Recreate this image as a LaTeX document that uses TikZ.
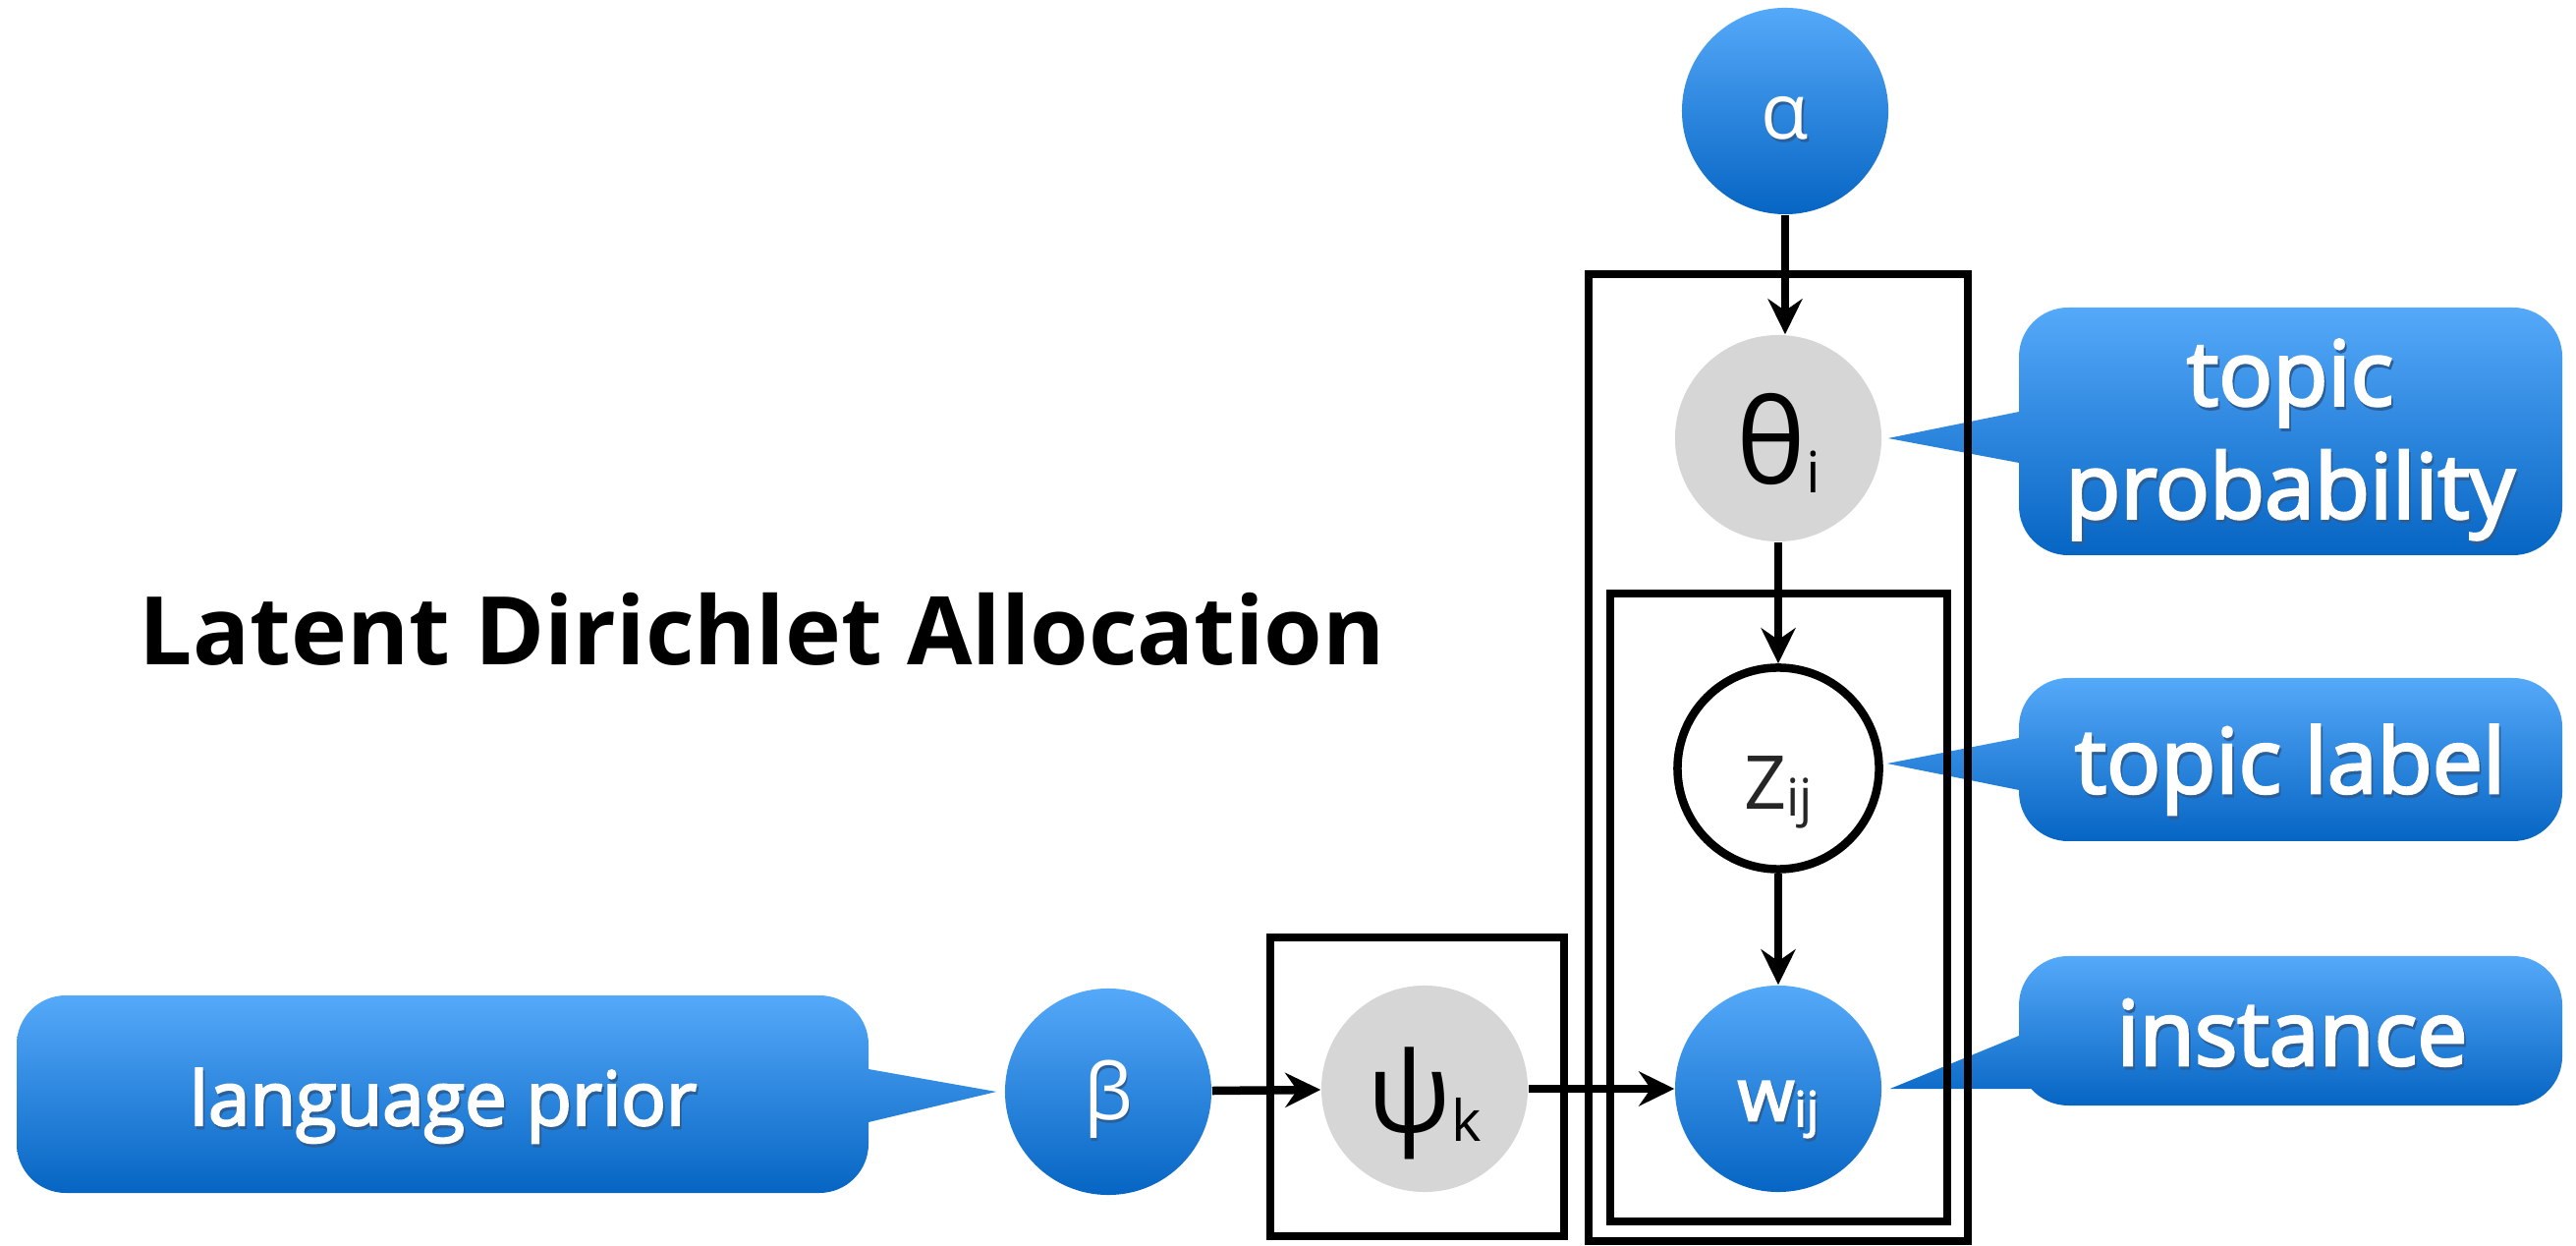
\documentclass[tikz,border=0pt]{standalone}
\usepackage{fontspec}
\setmainfont{Open Sans}
\newfontfamily\semibold[FakeBold=3]{Open Sans}
\usetikzlibrary{arrows.meta,calc}

\definecolor{bluetop}{HTML}{55A9F9}
\definecolor{bluebot}{HTML}{0665C3}
\definecolor{platefill}{HTML}{D6D6D6}
\definecolor{shadowc}{HTML}{2A5F9A}

\pgfdeclarelayer{back}
\pgfsetlayers{back,main}

% font size with matching baseline skip
\newcommand\fsz[1]{\fontsize{#1}{#1}\selectfont}
% move a symbol down without changing its box
\newcommand\lowered[2]{\raisebox{-#1}[\height][\depth]{#2}}
% lowered subscript: drop, size, text
\newcommand\subs[3]{\raisebox{-#1}{\fsz{#2}#3}}
% white text with a dark drop shadow
\newcommand\shd[1]{\makebox[0pt][l]{\kern0.5pt\raisebox{-0.9pt}{\color{shadowc}#1}}#1}

\begin{document}
\begin{tikzpicture}[x=0.01cm, y=-0.01cm,
  bluenode/.style={circle, minimum size=2.1cm, inner sep=0pt,
    top color=bluetop, bottom color=bluebot, draw=none, text=white},
  graynode/.style={circle, minimum size=2.1cm, inner sep=0pt,
    fill=platefill, text=black},
  opennode/.style={circle, minimum size=2.05cm, inner sep=0pt,
    draw=black, line width=0.85mm, fill=white, text=black!85},
  plate/.style={draw=black, line width=0.75mm},
  arrowline/.style={line width=0.85mm,
    -{Stealth[length=3.6mm, width=3.5mm, inset=1.2mm]}},
  bubble/.style={top color=bluetop, bottom color=bluebot, draw=none},
  calltext/.style={text=white, font=\semibold\fsz{26}, anchor=base, inner sep=0pt}]

\useasboundingbox (0,0) rectangle (2622,1268);

% title
\node[anchor=base, font=\bfseries\fsz{27.4}, inner sep=0pt] (title) at (776,677)
  {Latent Dirichlet Allocation};

% model variables
\node[bluenode] (alpha) at (1817,113) {\lowered{2.5pt}{\fsz{22.5}\shd{α}}};
\node[graynode] (theta) at (1810,446) {\lowered{1.4pt}{\fsz{34}θ\subs{2.3pt}{16.5}{i}}};
\node[opennode] (z) at (1810,782) {\lowered{7pt}{\fsz{21.5}Z\subs{2pt}{15}{ij}}};
\node[bluenode] (w) at (1810,1108) {\lowered{6.5pt}{\semibold\fsz{21}\shd{w\subs{1.7pt}{14}{ij}}}};
\node[graynode] (psi) at (1450,1108) {\lowered{4.3pt}{\fsz{32.5}ψ\subs{2.6pt}{16.5}{k}}};
\node[bluenode] (beta) at (1128,1111) {\lowered{2.7pt}{\fsz{22.5}\shd{β}}};

% plates
\draw[plate] (1617,279) rectangle (2003,1263);
\draw[plate] (1639,604) rectangle (1982,1243);
\draw[plate] (1293,954) rectangle (1592,1258);

% dependencies
\draw[arrowline] (alpha.south) -- (alpha.south |- theta.north);
\draw[arrowline] (theta) -- (z);
\draw[arrowline] (z) -- (w);
\draw[arrowline] (beta) -- (psi);
\draw[arrowline] (psi) -- (w);

% callout texts
\node[calltext, anchor=center, align=center, font=\semibold\fontsize{26}{32.7}\selectfont]
  (tp) at (2331,449) {\shd{topic}\\\shd{probability}};
\node[calltext] (tl) at (2331,807) {\shd{topic label}};
\node[calltext] (inst) at (2333,1084) {\shd{instance}};
\node[calltext, font=\semibold\fsz{21.6}] (lp) at (451,1145) {\shd{language prior}};

% callout bubbles
\begin{pgfonlayer}{back}
  \coordinate (t1) at ($(theta.east)+(6,0)$);
  \coordinate (t2) at ($(z.east)+(4,-5)$);
  \coordinate (t3) at ($(w.east)+(8,0)$);
  \coordinate (t4) at ($(beta.west)+(-8,0)$);
  \path[bubble] (2055,419) -- (2055,363) arc[start angle=180, end angle=270, radius=50]
    -- (2558,313) arc[start angle=270, end angle=360, radius=50]
    -- (2608,515) arc[start angle=0, end angle=90, radius=50]
    -- (2105,565) arc[start angle=90, end angle=180, radius=50]
    -- (2055,471) -- (t1) -- cycle;
  \path[bubble] (2055,751) -- (2055,740) arc[start angle=180, end angle=270, radius=50]
    -- (2558,690) arc[start angle=270, end angle=360, radius=50]
    -- (2608,806) arc[start angle=0, end angle=90, radius=50]
    -- (2105,856) arc[start angle=90, end angle=180, radius=50]
    -- (2055,804) -- (t2) -- cycle;
  \path[bubble] (2055,1054) -- (2055,1023) arc[start angle=180, end angle=270, radius=50]
    -- (2558,973) arc[start angle=270, end angle=360, radius=50]
    -- (2608,1075) arc[start angle=0, end angle=90, radius=50]
    -- (2105,1125) arc[start angle=90, end angle=138.7, radius=50]
    -- (t3) -- cycle;
  \path[bubble] (17,1063) arc[start angle=180, end angle=270, radius=50]
    -- (834,1013) arc[start angle=270, end angle=360, radius=50]
    -- (884,1088) -- (t4) -- (884,1142)
    -- (884,1164) arc[start angle=0, end angle=90, radius=50]
    -- (67,1214) arc[start angle=90, end angle=180, radius=50]
    -- cycle;
\end{pgfonlayer}
\end{tikzpicture}
\end{document}
